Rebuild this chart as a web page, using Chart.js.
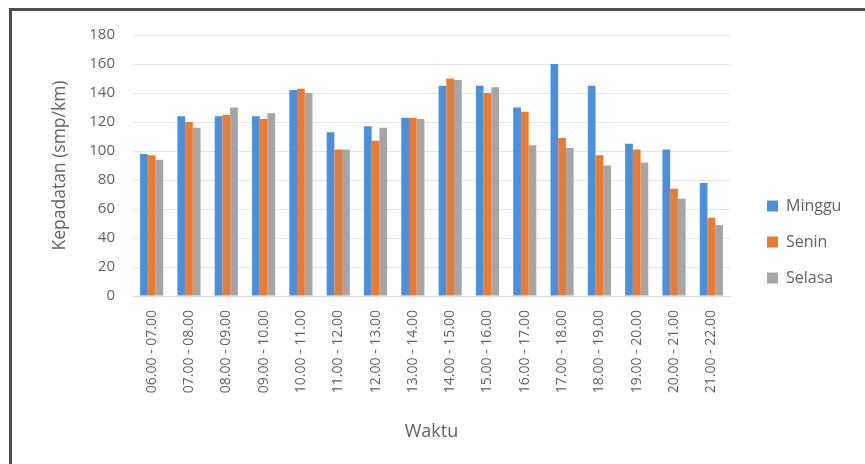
<!DOCTYPE html>
<html>
<head>
<meta charset="utf-8">
<script src="https://cdn.jsdelivr.net/npm/chart.js@4"></script>
<style>
  html, body { margin: 0; padding: 0; background: #fff; }
  #wrap { position: relative; width: 865px; height: 464px; overflow: hidden; }
  #frame { position: absolute; left: 9px; top: 8px; width: 900px; height: 500px;
           border-left: 3px solid #4d4d4d; border-top: 3px solid #4d4d4d; }
  canvas { position: absolute; left: 0; top: 0; }
</style>
</head>
<body>
<div id="wrap">
  <div id="frame"></div>
  <canvas id="chart" width="865" height="464"></canvas>
</div>
<script>
const categories = [
  "06.00 - 07.00", "07.00 - 08.00", "08.00 - 09.00", "09.00 - 10.00",
  "10.00 - 11.00", "11.00 - 12.00", "12.00 - 13.00", "13.00 - 14.00",
  "14.00 - 15.00", "15.00 - 16.00", "16.00 - 17.00", "17.00 - 18.00",
  "18.00 - 19.00", "19.00 - 20.00", "20.00 - 21.00", "21.00 - 22.00"
];
const minggu = [98, 124, 124, 124, 142, 113, 117, 123, 145, 145, 130, 160, 145, 105, 101, 78];
const senin  = [97, 120, 125, 122, 143, 101, 107, 123, 150, 140, 127, 109, 97, 101, 74, 54];
const selasa = [94, 116, 130, 126, 140, 101, 116, 122, 149, 144, 104, 102, 90, 92, 67, 49];

const textColor = '#626262';
const fontFamily = 'Open Sans';

// fixed legend width so the items sit where the original has them
const legendWidth = {
  id: 'legendWidth',
  beforeLayout(chart) {
    const legend = chart.legend;
    if (!legend || legend._patched) return;
    const fit = legend.fit;
    legend.fit = function () {
      fit.call(this);
      this.width = 118;
    };
    legend._patched = true;
  }
};

const ctx = document.getElementById('chart').getContext('2d');
new Chart(ctx, {
  type: 'bar',
  data: {
    labels: categories,
    datasets: [
      { label: 'Minggu', data: minggu, backgroundColor: '#4a90dc' },
      { label: 'Senin', data: senin, backgroundColor: '#ee7a2e' },
      { label: 'Selasa', data: selasa, backgroundColor: '#a5a5a5' }
    ]
  },
  options: {
    responsive: false,
    animation: false,
    layout: { padding: { top: 35, left: 40, right: 0, bottom: 15 } },
    datasets: { bar: { categoryPercentage: 0.62, barPercentage: 1.0 } },
    scales: {
      y: {
        min: 0, max: 180,
        ticks: { stepSize: 20, color: textColor, font: { family: fontFamily, size: 15 }, padding: 18 },
        grid: { color: '#e6e6e6', drawTicks: false },
        border: { display: false },
        title: { display: true, text: 'Kepadatan (smp/km)', color: textColor,
                 font: { family: fontFamily, size: 17.5 }, padding: { top: 10, bottom: 0 } },
        afterFit(scale) { scale.width = 93; }
      },
      gap: {
        type: 'linear', position: 'right', display: true,
        ticks: { display: false }, grid: { display: false }, border: { display: false },
        afterFit(scale) { scale.width = 17; }
      },
      x: {
        ticks: { color: textColor, font: { family: fontFamily, size: 14 }, maxRotation: 90, minRotation: 90, padding: 6 },
        grid: { display: false },
        border: { color: '#d9d9d9' },
        title: { display: true, text: 'Waktu', color: textColor,
                 font: { family: fontFamily, size: 18 }, padding: { top: 0, bottom: 6 } },
        afterFit(scale) { scale.height = 153; }
      }
    },
    plugins: {
      legend: {
        position: 'right',
        labels: { boxWidth: 11, boxHeight: 11, padding: 20, color: textColor,
                  font: { family: fontFamily, size: 16 } }
      },
      tooltip: { enabled: false }
    }
  },
  plugins: [legendWidth]
});
</script>
</body>
</html>
